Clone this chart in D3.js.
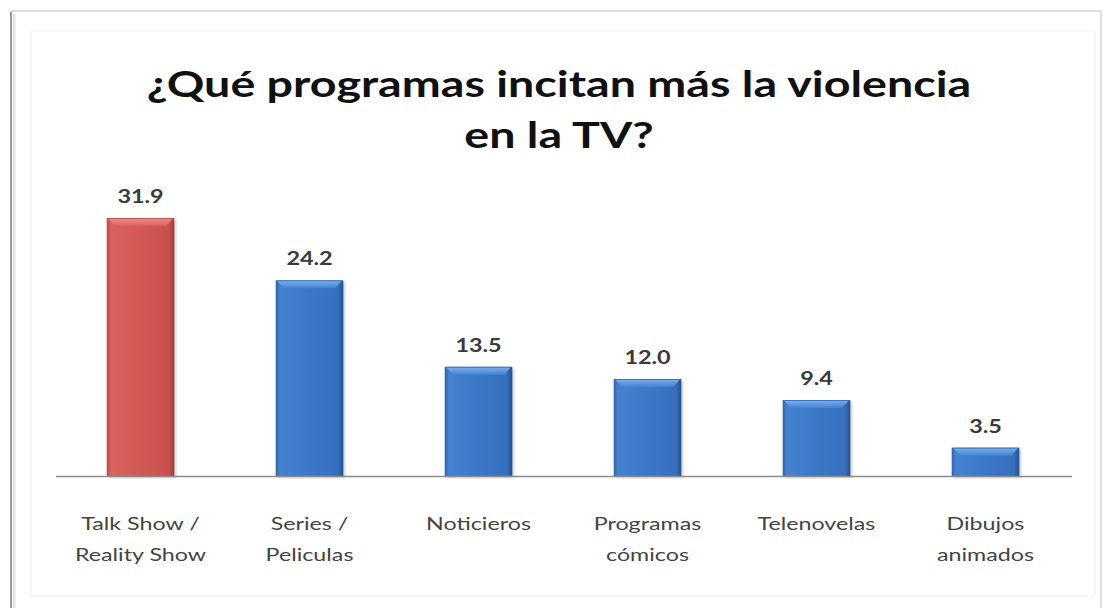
<!DOCTYPE html>
<html>
<head>
<meta charset="utf-8">
<script src="https://cdn.jsdelivr.net/npm/d3@7"></script>
<style>
  html, body { margin: 0; padding: 0; background: #ffffff; }
  svg { display: block; }
</style>
</head>
<body>
<svg id="chart" width="1114" height="608"></svg>
<script>
// Encuesta: ¿Qué programas incitan más la violencia en la TV? (%)
const categories = [
  ["Talk Show /", "Reality Show"],
  ["Series /", "Peliculas"],
  ["Noticieros"],
  ["Programas", "cómicos"],
  ["Telenovelas"],
  ["Dibujos", "animados"]
];
const values = [31.9, 24.2, 13.5, 12.0, 9.4, 3.5];
const valueLabels = ["31.9", "24.2", "13.5", "12.0", "9.4", "3.5"];
const highlighted = [true, false, false, false, false, false];
const titleLines = ["¿Qué programas incitan más la violencia", "en la TV?"];

const svg = d3.select("#chart");

// frame
svg.append("rect").attr("x", 11).attr("y", 11).attr("width", 1090).attr("height", 620)
  .attr("fill", "#fff").attr("stroke", "#d4d4d4").attr("stroke-width", 1.5);
svg.append("line").attr("x1", 11).attr("x2", 11).attr("y1", 12).attr("y2", 608)
  .attr("stroke", "#9a9a9a").attr("stroke-width", 2);
svg.append("line").attr("x1", 14).attr("x2", 14).attr("y1", 14).attr("y2", 608)
  .attr("stroke", "#e2e2e2").attr("stroke-width", 3);
svg.append("rect").attr("x", 31).attr("y", 31).attr("width", 1064).attr("height", 565)
  .attr("fill", "none").attr("stroke", "#f0f0f0").attr("stroke-width", 1);

// scales
const x = d3.scaleBand().domain(d3.range(values.length)).range([56, 1070])
  .paddingInner(0.6).paddingOuter(0.3);
const y = d3.scaleLinear().domain([0, 35]).range([476, 193]);

// gradients
const defs = svg.append("defs");
function makeGrad(id, stops) {
  const g = defs.append("linearGradient").attr("id", id)
    .attr("x1", "0%").attr("x2", "100%").attr("y1", "0%").attr("y2", "0%");
  stops.forEach(s => g.append("stop").attr("offset", s[0]).attr("stop-color", s[1]));
}
makeGrad("gRed", [["0%", "#b84a47"], ["6%", "#d9625e"], ["50%", "#d35955"], ["92%", "#c9504c"], ["100%", "#9c3b39"]]);
makeGrad("gBlue", [["0%", "#2f62a8"], ["6%", "#4482d0"], ["50%", "#3c78c8"], ["92%", "#3670bd"], ["100%", "#24508e"]]);
function makeVGrad(id, c1, c2) {
  const g = defs.append("linearGradient").attr("id", id)
    .attr("x1", "0%").attr("x2", "0%").attr("y1", "0%").attr("y2", "100%");
  g.append("stop").attr("offset", "0%").attr("stop-color", c1);
  g.append("stop").attr("offset", "100%").attr("stop-color", c2);
}
makeVGrad("bRed", "#f09a96", "#d85f5b");
makeVGrad("bBlue", "#86b6ee", "#4484d2");
const shadow = defs.append("filter").attr("id", "soft").attr("x", "-20%").attr("y", "-20%")
  .attr("width", "140%").attr("height", "140%");
shadow.append("feGaussianBlur").attr("stdDeviation", 1.2);

// bars
const bars = svg.append("g");
values.forEach((v, i) => {
  const bx = x(i), bw = x.bandwidth(), top = y(v), base = y(0), bh = base - top;
  const bev = 8;
  const g = bars.append("g");
  g.append("rect").attr("x", bx + 2).attr("y", top + 2).attr("width", bw).attr("height", bh)
    .attr("fill", "#000").attr("opacity", 0.18).attr("filter", "url(#soft)");
  g.append("rect").attr("x", bx).attr("y", top).attr("width", bw).attr("height", bh)
    .attr("fill", highlighted[i] ? "url(#gRed)" : "url(#gBlue)");
  // top bevel
  g.append("path")
    .attr("d", `M${bx + 1},${top} L${bx + bw - 1},${top} L${bx + bw - bev},${top + bev} L${bx + bev},${top + bev} Z`)
    .attr("fill", highlighted[i] ? "url(#bRed)" : "url(#bBlue)").attr("opacity", 0.9);
  g.append("line").attr("x1", bx + 1).attr("x2", bx + bw - 1).attr("y1", top + 0.5).attr("y2", top + 0.5)
    .attr("stroke", highlighted[i] ? "#c24f4b" : "#3a74c2").attr("stroke-width", 1);
});

// baseline
svg.append("line").attr("x1", 56).attr("x2", 1072).attr("y1", y(0) + 0.5).attr("y2", y(0) + 0.5)
  .attr("stroke", "#8c8c8c").attr("stroke-width", 1.5);

// value labels
values.forEach((v, i) => {
  svg.append("text")
    .attr("transform", `translate(${x(i) + x.bandwidth() / 2},${y(v) - 15}) scale(1.3,1)`)
    .attr("text-anchor", "middle")
    .attr("font-family", "Lato, 'Open Sans', sans-serif").attr("font-weight", 700)
    .attr("font-size", 18).attr("fill", "#3a3a3a")
    .text(valueLabels[i]);
});

// category labels
categories.forEach((lines, i) => {
  const t = svg.append("text")
    .attr("transform", `translate(${x(i) + x.bandwidth() / 2},530) scale(1.33,1)`)
    .attr("text-anchor", "middle")
    .attr("font-family", "Lato, 'Open Sans', sans-serif")
    .attr("font-size", 17.5).attr("fill", "#444");
  lines.forEach((l, k) => t.append("tspan").attr("x", 0).attr("y", k * 31).text(l));
});

// title
titleLines.forEach((l, k) => {
  svg.append("text")
    .attr("transform", `translate(559,${97 + k * 51}) scale(1.26,1)`)
    .attr("text-anchor", "middle")
    .attr("font-family", "Lato, sans-serif").attr("font-weight", 700)
    .attr("font-size", 37).attr("fill", "#111")
    .text(l);
});
</script>
</body>
</html>
